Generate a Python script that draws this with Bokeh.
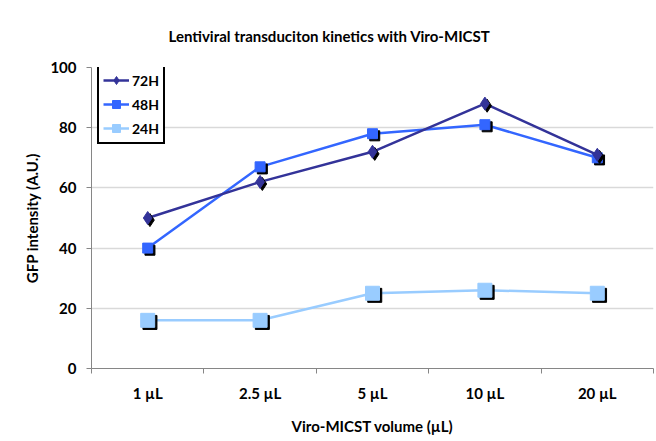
from bokeh.plotting import figure
from bokeh.models import (FixedTicker, Range1d, Legend, LegendItem, ColumnDataSource)
from bokeh.transform import dodge
from bokeh.embed import file_html
from bokeh.resources import INLINE

categories = ["1 µL", "2.5 µL", "5 µL", "10 µL", "20 µL"]
h72 = [50, 62, 72, 88, 71]
h48 = [40, 67, 78, 81, 70]
h24 = [16, 16, 25, 26, 25]
series_names = ["72H", "48H", "24H"]
y_ticks = [0, 20, 40, 60, 80, 100]

FONT = "Lato"
xpos = [i + 0.5 for i in range(len(categories))]

p = figure(width=656, height=441, output_backend="svg", toolbar_location=None,
           x_range=Range1d(0, len(categories)), y_range=Range1d(0, 100),
           frame_width=562, frame_height=301,
           min_border_left=91, min_border_right=3, min_border_top=67, min_border_bottom=73)
p.outline_line_color = None
p.background_fill_color = "white"
p.border_fill_color = "white"

p.title.text = "Lentiviral transduciton kinetics with Viro-MICST"
p.title.text_font = FONT
p.title.text_font_style = "bold"
p.title.text_font_size = "15px"
p.title.text_color = "black"
p.title.align = "left"
p.title.offset = 77
p.title.standoff = 45

# axes
xa = p.xaxis[0]
xa.ticker = FixedTicker(ticks=xpos, minor_ticks=list(range(len(categories) + 1)))
xa.major_label_overrides = {x: c for x, c in zip(xpos, categories)}
xa.major_tick_out = 0
xa.major_tick_in = 0
xa.minor_tick_out = 5
xa.minor_tick_in = 0
xa.minor_tick_line_color = "#868686"
xa.axis_line_color = "#868686"
xa.major_label_standoff = 10
xa.axis_label = "Viro-MICST volume (µL)"
xa.axis_label_standoff = 12

ya = p.yaxis[0]
ya.ticker = FixedTicker(ticks=y_ticks)
ya.major_tick_out = 5
ya.major_tick_in = 0
ya.minor_tick_line_color = None
ya.major_tick_line_color = "#868686"
ya.axis_line_color = "#868686"
ya.major_label_standoff = 10
ya.axis_label = "GFP intensity (A.U.)"
ya.axis_label_standoff = 6

for ax in (xa, ya):
    ax.major_label_text_font = FONT
    ax.major_label_text_font_style = "bold"
    ax.major_label_text_font_size = "15px"
    ax.major_label_text_color = "black"
    ax.axis_label_text_font = FONT
    ax.axis_label_text_font_style = "bold"
    ax.axis_label_text_font_size = "15px"
    ax.axis_label_text_color = "black"

p.xgrid.grid_line_color = None
p.ygrid.grid_line_color = "#d9d9d9"
p.ygrid.grid_line_width = 1.5
p.ygrid.ticker = FixedTicker(ticks=y_ticks[1:])

colors = ["#333399", "#3366FF", "#99CCFF"]
markers = ["diamond", "square", "square"]
sizes = [13, 10, 14]
data = [h72, h48, h24]

renderers = []
for name, vals, col, mk, sz in reversed(list(zip(series_names, data, colors, markers, sizes))):
    src = ColumnDataSource(dict(x=xpos, y=vals, ys=[v - 0.7 for v in vals]))
    ln = p.line("x", "y", source=src, line_color=col, line_width=2.5)
    p.scatter(dodge("x", 0.02, range=p.x_range), "ys", source=src, marker=mk, size=sz,
              fill_color="black", line_color="black")
    sc = p.scatter("x", "y", source=src, marker=mk, size=sz, fill_color=col, line_color=col)
    renderers.append((name, ln, sc))

order = {n: i for i, n in enumerate(series_names)}
renderers.sort(key=lambda t: order[t[0]])
items = [LegendItem(label=n, renderers=[ln, sc]) for n, ln, sc in renderers]
legend = Legend(items=items, location=(6, 224))
legend.label_text_font = FONT
legend.label_text_font_style = "bold"
legend.label_text_font_size = "14px"
legend.label_text_color = "black"
legend.border_line_color = "black"
legend.border_line_alpha = 1
legend.border_line_width = 2
legend.background_fill_alpha = 1
legend.margin = 0
legend.padding = 4
legend.spacing = 4
legend.glyph_width = 26
legend.label_standoff = 3
p.add_layout(legend)

open("out.html", "w").write(file_html(p, INLINE))
